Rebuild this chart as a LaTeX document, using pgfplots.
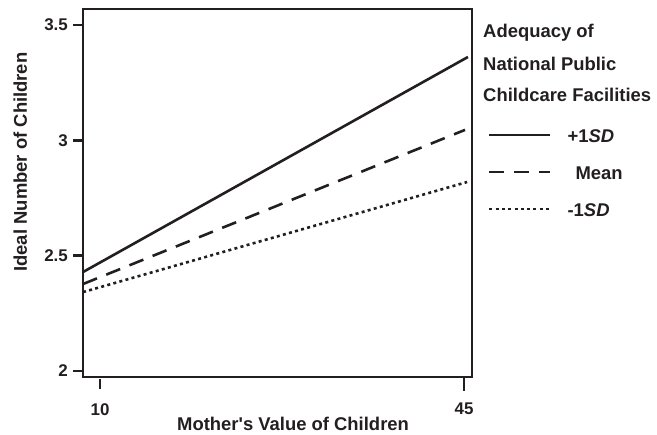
\documentclass[border=0pt]{standalone}
\usepackage{pgfplots}
\pgfplotsset{compat=1.18}
\usepackage{fontspec}
\setmainfont{Liberation Sans}[Ligatures=TeXOff]
\definecolor{ink}{HTML}{231F20}
\begin{document}
\begin{tikzpicture}[x=1bp,y=1bp]
\path[use as bounding box] (0,0) rectangle (657,435);
\begin{axis}[
  at={(83bp,58bp)}, anchor=south west,
  scale only axis, width=389bp, height=368bp,
  xmin=8.365, xmax=45.77, ymin=1.974, ymax=3.569,
  xtick={10,45}, xticklabels={10,45},
  ytick={2,2.5,3,3.5}, yticklabels={2,2.5,3,3.5},
  /pgf/number format/assume math mode=true,
  tick align=outside, tick pos=left,
  major tick length=10bp,
  axis line style={line width=2.6bp, ink},
  every tick/.style={line width=2.6bp, ink},
  xtick style={yshift=-2bp, shorten >=-2bp, shorten <=-2bp},
  ticklabel style={font=\fontsize{17}{20}\selectfont\bfseries, text=ink},
  yticklabel style={anchor=east, inner sep=0pt, xshift=-5bp},
  xticklabel style={anchor=north, inner sep=0pt, yshift=-16bp},
  xlabel={Mother's Value of Children},
  ylabel={Ideal Number of Children},
  label style={font=\fontsize{18.5}{22}\selectfont\bfseries, text=ink},
  xlabel style={at={(axis description cs:0.54,-0.1467)}, anchor=base, inner sep=0pt},
  ylabel style={at={(axis description cs:-0.144,0.584)}, anchor=base, inner sep=0pt},
  clip=false,
  legend style={at={(axis description cs:1.0411,0.6739)}, anchor=north west,
    draw=none, fill=none, inner sep=0pt, outer sep=0pt,
    /tikz/row sep=19bp, /tikz/column sep=16bp,
    nodes={inner sep=0pt, text height=14bp, text depth=4bp,
      font=\fontsize{18.5}{22}\selectfont\bfseries, text=ink}},
  legend cell align=left,
  legend image code/.code={\draw[#1] (0bp,3bp) -- (61bp,3bp);},
]
\addplot[ink, line width=2.6bp] coordinates {(8.37,2.429) (45.38,3.361)};
\addlegendentry{+1\textit{SD}}
\addplot[ink, line width=2.6bp, dash pattern=on 15bp off 10bp] coordinates {(8.37,2.377) (45.1,3.045)};
\addlegendentry{\hspace*{8bp}Mean}
\addplot[ink, line width=2.6bp, dash pattern=on 3bp off 3.3bp] coordinates {(8.37,2.342) (45.3,2.819)};
\addlegendentry{-1\textit{SD}}
\end{axis}
\begin{scope}[every node/.style={anchor=base west, inner sep=0pt, font=\fontsize{18.5}{22}\selectfont\bfseries, text=ink}]
\node at (483,397) {Adequacy of};
\node at (483,364) {National Public};
\node at (483,333) {Childcare Facilities};
\end{scope}
\end{tikzpicture}
\end{document}
